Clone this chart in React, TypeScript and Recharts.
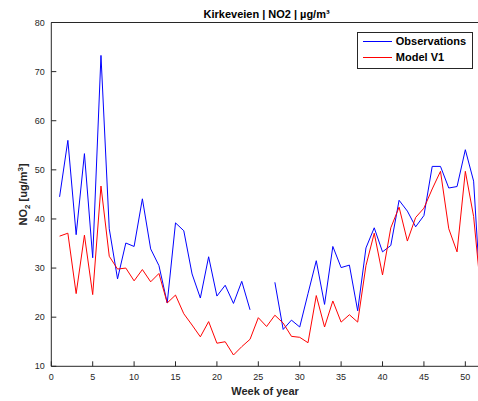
import { LineChart, Line, XAxis, YAxis, Legend } from "recharts";

const FONT = '"Liberation Sans", Arial, Helvetica, sans-serif';
const AXIS = "#262626";

const weeks = [
  1, 2, 3, 4, 5, 6, 7, 8, 9, 10, 11, 12, 13, 14, 15, 16, 17, 18, 19, 20, 21, 22, 23, 24, 25, 26,
  27, 28, 29, 30, 31, 32, 33, 34, 35, 36, 37, 38, 39, 40, 41, 42, 43, 44, 45, 46, 47, 48, 49, 50, 51, 52,
];

const observations = [
  44.5, 56.0, 36.8, 53.3, 32.1, 73.3, 38.0, 27.8, 35.1, 34.4,
  44.1, 33.9, 30.5, 22.9, 39.2, 37.6, 28.8, 23.9, 32.3, 24.3,
  26.5, 22.8, 27.3, 21.5, null, null, 27.1, 17.5, 19.4, 18.0,
  24.8, 31.5, 22.6, 34.4, 30.1, 30.6, 21.3, 34.1, 38.2, 33.3,
  34.6, 43.8, 41.6, 38.4, 40.7, 50.7, 50.7, 46.3, 46.6, 54.1,
  47.7, 20.0,
];

const modelV1 = [
  36.5, 37.1, 24.8, 36.7, 24.6, 46.7, 32.4, 29.8, 30.0, 27.4,
  29.7, 27.2, 28.9, 22.9, 24.5, 20.7, 18.4, 16.0, 19.1, 14.7,
  15.0, 12.3, 14.0, 15.5, 19.9, 18.1, 20.4, 18.8, 16.1, 15.9,
  14.8, 24.4, 18.0, 23.3, 19.0, 20.5, 19.0, 30.5, 37.1, 28.6,
  38.2, 42.4, 35.5, 40.3, 42.2, 46.1, 49.7, 38.0, 33.3, 49.7,
  40.5, 23.0,
];

const xTicks = [0, 5, 10, 15, 20, 25, 30, 35, 40, 45, 50];
const yTicks = [10, 20, 30, 40, 50, 60, 70, 80];

const data = weeks.map((week, i) => ({
  week,
  obs: observations[i],
  model: modelV1[i],
}));

const series = [
  { key: "obs", name: "Observations", color: "#0000ff" },
  { key: "model", name: "Model V1", color: "#ff0000" },
];

// the original figure is cut off at the right edge, just before the right axis line
const CHART_W = 482.6;

function LegendBox() {
  return (
    <div
      style={{
        width: 114,
        height: 34,
        border: `1px solid ${AXIS}`,
        background: "#fff",
        paddingTop: 1,
        boxSizing: "content-box",
      }}
    >
      {series.map((s) => (
        <div key={s.key} style={{ display: "flex", alignItems: "center", height: 15.7 }}>
          <div style={{ width: 29, height: 1, background: s.color, marginLeft: 5 }} />
          <span
            style={{
              marginLeft: 3.5,
              fontFamily: FONT,
              fontSize: 11,
              fontWeight: "bold",
              color: "#000",
              lineHeight: "15.7px",
            }}
          >
            {s.name}
          </span>
        </div>
      ))}
    </div>
  );
}

export default function App() {
  const tickStyle = { fill: AXIS, fontSize: 9, fontFamily: FONT };
  return (
    <div
      style={{
        position: "absolute",
        left: 0,
        top: 0,
        width: 478,
        height: 401,
        overflow: "hidden",
        background: "#fff",
      }}
    >
      <LineChart width={CHART_W} height={401} data={data} margin={{ top: 0, right: 0, bottom: 0, left: 0 }}>
        <XAxis
          xAxisId="bottom"
          dataKey="week"
          type="number"
          domain={[0, 52]}
          ticks={xTicks}
          allowDataOverflow
          height={34.7}
          stroke={AXIS}
          tickSize={-5}
          tickMargin={12.8}
          tick={tickStyle}
          label={({ viewBox }: any) => (
            <text
              x={viewBox.x + viewBox.width / 2 - 1.5}
              y={395.2}
              textAnchor="middle"
              fontFamily={FONT}
              fontSize={11}
              fontWeight="bold"
              fill={AXIS}
            >
              Week of year
            </text>
          )}
        />
        <XAxis
          xAxisId="top"
          orientation="top"
          dataKey="week"
          type="number"
          domain={[0, 52]}
          ticks={xTicks}
          allowDataOverflow
          height={22.5}
          stroke={AXIS}
          tickSize={-5}
          tick={false}
          label={({ viewBox }: any) => (
            <text
              x={viewBox.x + viewBox.width / 2}
              y={18.3}
              textAnchor="middle"
              fontFamily={FONT}
              fontSize={11}
              fontWeight="bold"
              fill="#000"
            >
              Kirkeveien | NO2 | µg/m³
            </text>
          )}
        />
        <YAxis
          yAxisId="left"
          type="number"
          domain={[10, 80]}
          ticks={yTicks}
          allowDataOverflow
          width={51.3}
          stroke={AXIS}
          tickSize={-5}
          tickMargin={11.5}
          tick={tickStyle}
          label={({ viewBox }: any) => {
            const cx = 26.7;
            const cy = viewBox.y + viewBox.height / 2;
            return (
              <text
                x={cx}
                y={cy}
                textAnchor="middle"
                transform={`rotate(-90, ${cx}, ${cy})`}
                fontFamily={FONT}
                fontSize={11}
                fontWeight="bold"
                fill={AXIS}
              >
                NO
                <tspan fontSize={8} dy={3}>2</tspan>
                <tspan dy={-3}> [ug/m</tspan>
                <tspan fontSize={8} dy={-4}>3</tspan>
                <tspan dy={4}>]</tspan>
              </text>
            );
          }}
        />
        <YAxis
          yAxisId="right"
          orientation="right"
          type="number"
          domain={[10, 80]}
          ticks={yTicks}
          allowDataOverflow
          width={0.7}
          stroke={AXIS}
          tickSize={-5}
          tick={false}
        />
        <Legend
          layout="vertical"
          align="center"
          verticalAlign="middle"
          content={() => <LegendBox />}
          wrapperStyle={{ position: "absolute", left: 357.3, top: 32, width: "auto", height: "auto" }}
        />
        {series.map((s) => (
          <Line
            key={s.key}
            xAxisId="bottom"
            yAxisId="left"
            type="linear"
            dataKey={s.key}
            name={s.name}
            stroke={s.color}
            strokeWidth={1}
            dot={false}
            activeDot={false}
            connectNulls={false}
            isAnimationActive={false}
          />
        ))}
      </LineChart>
    </div>
  );
}
